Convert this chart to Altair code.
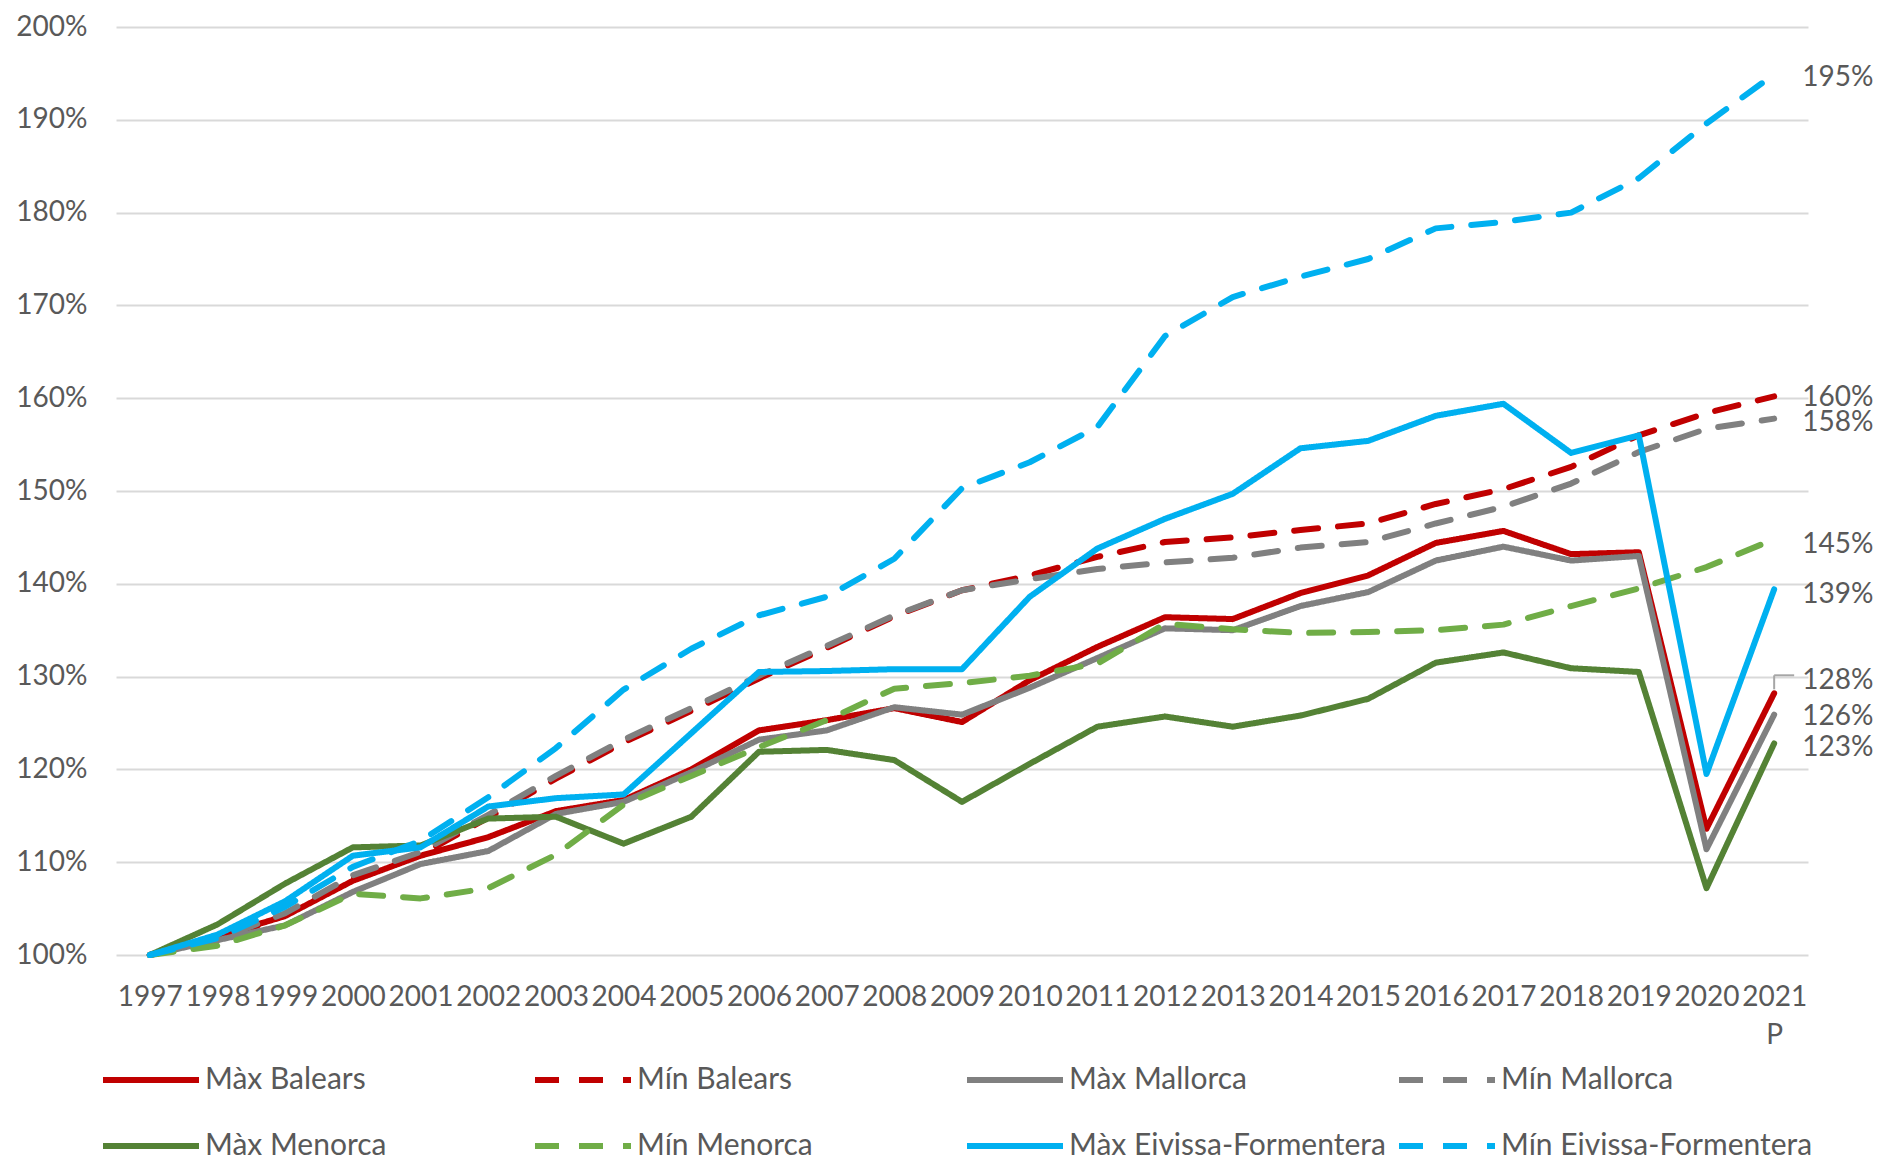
import altair as alt
import pandas as pd

years = [str(y) for y in range(1997, 2021)] + ["2021 P"]

series_names = [
    "Màx Balears", "Mín Balears", "Màx Mallorca", "Mín Mallorca",
    "Màx Menorca", "Mín Menorca", "Màx Eivissa-Formentera", "Mín Eivissa-Formentera",
]

max_balears = [100, 102, 104.2, 108, 110.7, 112.7, 115.5, 116.7, 120, 124.2, 125.3, 126.6, 125.1,
               129.6, 133.2, 136.4, 136.2, 139.0, 140.9, 144.4, 145.7, 143.2, 143.4, 113.6, 128.2]
min_balears = [100, 101.5, 104.3, 108.3, 110.8, 114.8, 119.0, 122.9, 126.3, 129.8, 133.1, 136.5, 139.3,
               140.9, 142.9, 144.5, 145.0, 145.8, 146.5, 148.6, 150.2, 152.6, 156.0, 158.4, 160.2]
max_mallorca = [100, 101.6, 103.2, 106.8, 109.8, 111.2, 115.2, 116.5, 119.7, 123.2, 124.2, 126.7, 125.9,
                128.8, 132.0, 135.2, 135.0, 137.6, 139.1, 142.5, 144.0, 142.5, 143.0, 111.4, 125.9]
min_mallorca = [100, 101.7, 104.5, 108.6, 111.1, 115.1, 119.3, 123.2, 126.6, 130.1, 133.3, 136.6, 139.3,
                140.5, 141.6, 142.3, 142.8, 143.9, 144.5, 146.5, 148.3, 150.8, 154.2, 156.7, 157.8]
max_menorca = [100, 103.3, 107.7, 111.6, 111.8, 114.7, 114.9, 112.0, 114.9, 121.9, 122.1, 121.0, 116.5,
               120.6, 124.6, 125.7, 124.6, 125.8, 127.6, 131.5, 132.6, 130.9, 130.5, 107.2, 122.8]
min_menorca = [100, 101, 103.2, 106.6, 106.1, 107.2, 110.8, 116.2, 119.3, 122.4, 125.3, 128.7, 129.3,
               130.1, 131.4, 135.7, 135.1, 134.7, 134.8, 135.0, 135.6, 137.6, 139.5, 141.8, 144.8]
max_eivissa = [100, 102.2, 105.8, 110.7, 111.6, 116.0, 116.9, 117.3, 123.9, 130.5, 130.6, 130.8, 130.8,
               138.6, 143.8, 147.0, 149.7, 154.6, 155.4, 158.1, 159.4, 154.1, 156.0, 119.5, 139.4]
min_eivissa = [100, 101.8, 105.2, 109.5, 112.3, 117.0, 122.3, 128.6, 133.0, 136.6, 138.6, 142.7, 150.3,
               153.1, 156.9, 166.7, 170.9, 173.1, 175.0, 178.3, 179.0, 180.0, 183.7, 189.6, 194.9]

all_values = [max_balears, min_balears, max_mallorca, min_mallorca,
              max_menorca, min_menorca, max_eivissa, min_eivissa]

colors = ["#C00000", "#C00000", "#808080", "#808080", "#548235", "#70AD47", "#00B0F0", "#00B0F0"]
dashes = [[1, 0], [24, 20], [1, 0], [24, 20], [1, 0], [24, 20], [1, 0], [24, 20]]
label_dy = [-12, 2, 2, 4, 5, 6, 6, 4]

rows = []
for order, (name, vals) in enumerate(zip(series_names, all_values)):
    for yr, v in zip(years, vals):
        rows.append({"year": yr, "value": v, "series": name, "order": order})
df = pd.DataFrame(rows)

end_rows = []
for name, vals in zip(series_names, all_values):
    end_rows.append({"year": years[-1], "value": vals[-1], "series": name,
                     "label": f"{round(vals[-1])}%"})
end_df = pd.DataFrame(end_rows)

FONT = "Lato"
TXT = "#595959"

x_axis = alt.Axis(labelAngle=0, labelFontSize=28, labelFont=FONT, labelColor=TXT,
                  domain=False, ticks=False, grid=False, labelPadding=28,
                  labelOverlap=False, labelLineHeight=38,
                  labelExpr="datum.value == '2021 P' ? ['2021', 'P'] : datum.value")
y_axis = alt.Axis(values=list(range(100, 201, 10)), labelExpr="datum.value + '%'",
                  labelFontSize=28, labelFont=FONT, labelColor=TXT,
                  domain=False, ticks=False, grid=True, gridColor="#D9D9D9",
                  gridWidth=2, labelPadding=29, minExtent=103, maxExtent=103)

x_enc = alt.X("year:O", sort=years, title=None,
              scale=alt.Scale(type="point", padding=0.5), axis=x_axis)
y_enc = alt.Y("value:Q", title=None,
              scale=alt.Scale(domain=[100, 200], nice=False, zero=False), axis=y_axis)

legend_kw = dict(orient="none", legendX=-16, legendY=1002, columns=4,
                 direction="horizontal", symbolType="stroke",
                 symbolSize=96 * 96, symbolStrokeWidth=6,
                 labelFontSize=30, labelFont=FONT, labelColor=TXT,
                 columnPadding=1, rowPadding=-26, gridAlign="all",
                 labelOffset=3, title=None, labelLimit=0)

lines = alt.Chart(df).mark_line(strokeWidth=6, strokeCap="round", strokeJoin="round").encode(
    x=x_enc,
    y=y_enc,
    color=alt.Color("series:N", sort=series_names,
                    scale=alt.Scale(domain=series_names, range=colors),
                    legend=alt.Legend(**legend_kw)),
    strokeDash=alt.StrokeDash("series:N", sort=series_names,
                              scale=alt.Scale(domain=series_names, range=dashes),
                              legend=alt.Legend(**legend_kw)),
    detail="order:O",
    order="order:O",
)

label_layers = []
for name, dy in zip(series_names, label_dy):
    label_layers.append(
        alt.Chart(end_df).transform_filter(alt.datum.series == name).mark_text(
            align="left", baseline="middle", dx=28, dy=dy, fontSize=28, font=FONT, color=TXT
        ).encode(x=x_enc, y=y_enc, text="label:N")
    )

leader_df = end_df[end_df["series"] == "Màx Balears"]
leader_v = alt.Chart(leader_df).mark_rule(color="#A6A6A6", strokeWidth=2, yOffset=-4, y2Offset=-18).encode(
    x=x_enc,
    y=y_enc,
    y2="value:Q",
)
leader_h = alt.Chart(leader_df).mark_rule(color="#A6A6A6", strokeWidth=2, yOffset=-18, x2Offset=20).encode(
    x=x_enc,
    x2="year:O",
    y=y_enc,
)

chart = alt.layer(lines, leader_v, leader_h, *label_layers).properties(
    width=1692, height=928,
    padding={"left": 5, "top": 5, "right": 0, "bottom": 0},
).configure(font=FONT).configure_view(stroke=None)

chart.save("out.html", embed_options={"renderer": "svg", "actions": False})
